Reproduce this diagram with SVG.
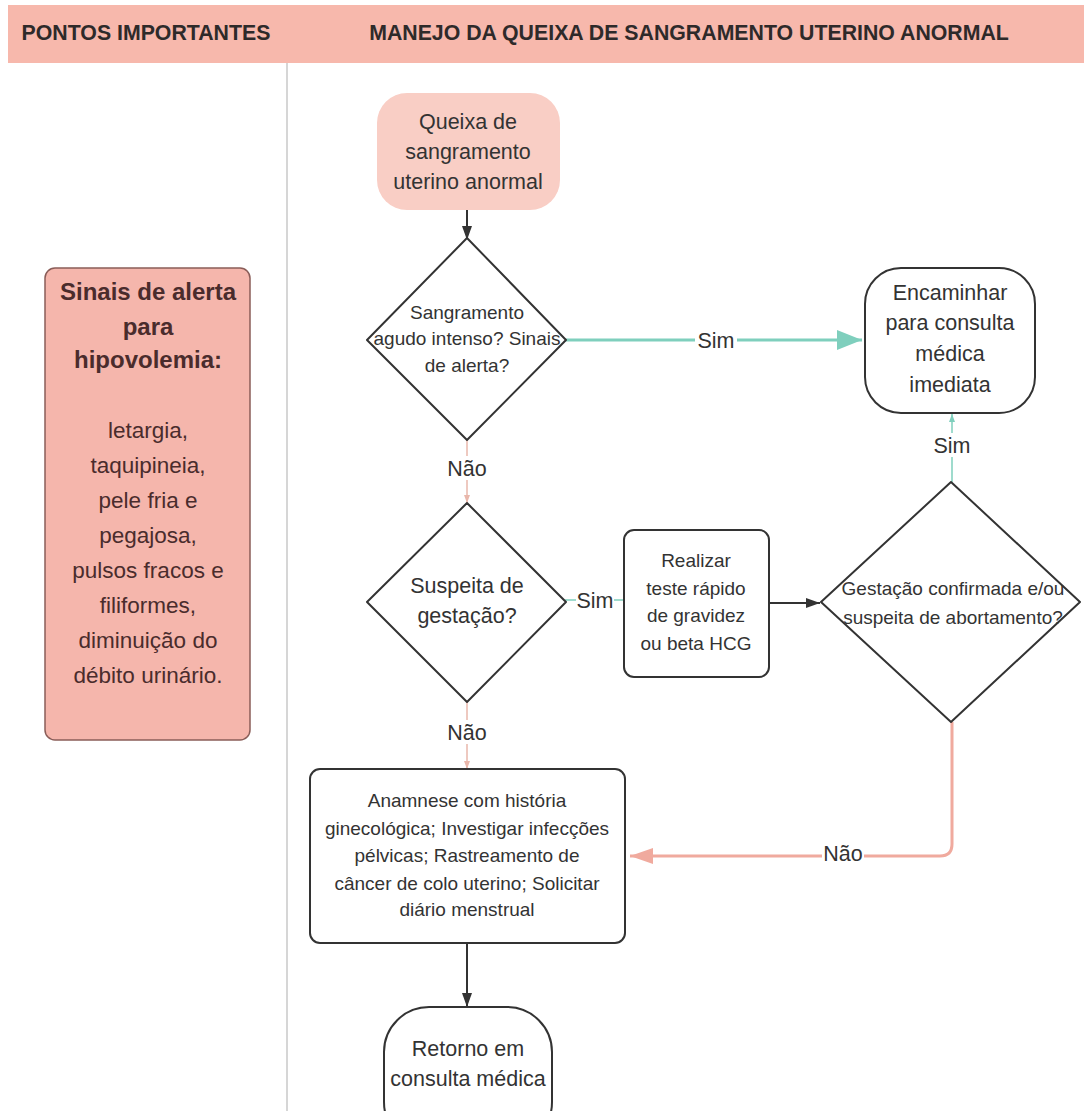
<svg xmlns="http://www.w3.org/2000/svg" width="1084" height="1111" viewBox="0 0 1084 1111">
<style>
  text{font-family:"Liberation Sans",Arial,sans-serif;text-anchor:middle;fill:#333}
  .hdr{font-weight:bold;font-size:21.3px;fill:#2e2a2a}
  .lt{font-weight:bold;font-size:24px;fill:#4a2c2c}
  .lb{font-size:22.5px;fill:#4a2c2c}
  .big{font-size:21.5px}
  .sm{font-size:19px}
  .shape{fill:#fff;stroke:#333;stroke-width:2;stroke-linejoin:round}
  .lbl{font-size:21.5px}
  .bg{fill:#fff}
  .blk{stroke:#333;stroke-width:2;fill:none}
  .teal{stroke:#7fcfbd;fill:none}
  .pink{stroke:#f0aa9e;fill:none}
  .pinkthin{stroke:#e9b7ab;stroke-width:1.5;fill:none}
</style>
<defs>
  <marker id="mBlack" markerUnits="userSpaceOnUse" markerWidth="14" markerHeight="10" refX="14" refY="5" orient="auto"><path d="M0,0 L14,5 L0,10 z" fill="#333"/></marker>
  <marker id="mTealBig" markerUnits="userSpaceOnUse" markerWidth="25" markerHeight="20" refX="25" refY="10" orient="auto"><path d="M0,0 L25,10 L0,20 z" fill="#7fcfbd"/></marker>
  <marker id="mTealSm" markerUnits="userSpaceOnUse" markerWidth="8" markerHeight="6" refX="8" refY="3" orient="auto"><path d="M0,0 L8,3 L0,6 z" fill="#7fcfbd"/></marker>
  <marker id="mPinkBig" markerUnits="userSpaceOnUse" markerWidth="23" markerHeight="16" refX="23" refY="8" orient="auto"><path d="M0,0 L23,8 L0,16 z" fill="#f0aa9e"/></marker>
  <marker id="mPinkSm" markerUnits="userSpaceOnUse" markerWidth="8" markerHeight="6" refX="8" refY="3" orient="auto"><path d="M0,0 L8,3 L0,6 z" fill="#e9b7ab"/></marker>
</defs>
<rect width="1084" height="1111" fill="#fff"/>

<g id="header">
  <rect x="8" y="5" width="1076" height="58" fill="#f7b8ac"/>
  <text class="hdr" x="146" y="40">PONTOS IMPORTANTES</text>
  <text class="hdr" x="689" y="40">MANEJO DA QUEIXA DE SANGRAMENTO UTERINO ANORMAL</text>
</g>
<line x1="287" y1="63" x2="287" y2="1111" stroke="#c9c9c9" stroke-width="1.5"/>

<g id="alerta">
  <rect x="45" y="268" width="205" height="472" rx="10" fill="#f5b6ac" stroke="#8a5d58" stroke-width="1.5"/>
  <text class="lt" x="148" y="300">Sinais de alerta</text>
  <text class="lt" x="148" y="335">para</text>
  <text class="lt" x="148" y="368">hipovolemia:</text>
  <text class="lb" x="148" y="438">letargia,</text>
  <text class="lb" x="148" y="473">taquipineia,</text>
  <text class="lb" x="148" y="508">pele fria e</text>
  <text class="lb" x="148" y="543">pegajosa,</text>
  <text class="lb" x="148" y="578">pulsos fracos e</text>
  <text class="lb" x="148" y="613">filiformes,</text>
  <text class="lb" x="148" y="648">diminuição do</text>
  <text class="lb" x="148" y="683">débito urinário.</text>
</g>

<g id="connectors">
  <path class="blk" d="M467,210 L467,240" marker-end="url(#mBlack)"/>
  <path class="teal" stroke-width="3" d="M565,340 L862,340" marker-end="url(#mTealBig)"/>
  <path class="pinkthin" d="M467,438 L467,503" marker-end="url(#mPinkSm)"/>
  <path class="teal" stroke-width="1.5" d="M565,600 L624,600"/>
  <path class="blk" d="M769,603 L820,603" marker-end="url(#mBlack)"/>
  <path class="teal" stroke-width="1.5" d="M952,482 L952,414" marker-end="url(#mTealSm)"/>
  <path class="pinkthin" d="M467,702 L467,769" marker-end="url(#mPinkSm)"/>
  <path class="pink" stroke-width="3" d="M952,722 L952,844 Q952,856 940,856 L630,856" marker-end="url(#mPinkBig)"/>
  <path class="blk" d="M467,943 L467,1007" marker-end="url(#mBlack)"/>
  <rect class="bg" x="695" y="328" width="42" height="24"/>
  <text class="lbl" x="716" y="348">Sim</text>
  <rect class="bg" x="446" y="456" width="42" height="24"/>
  <text class="lbl" x="467" y="476">Não</text>
  <rect class="bg" x="576" y="588" width="38" height="24"/>
  <text class="lbl" x="595" y="608">Sim</text>
  <rect class="bg" x="933" y="433" width="38" height="24"/>
  <text class="lbl" x="952" y="453">Sim</text>
  <rect class="bg" x="446" y="720" width="42" height="24"/>
  <text class="lbl" x="467" y="740">Não</text>
  <rect class="bg" x="822" y="844" width="42" height="24"/>
  <text class="lbl" x="843" y="861">Não</text>
</g>

<g id="inicio">
  <rect x="377" y="93" width="183" height="117" rx="30" fill="#f9cec5"/>
  <text class="big" x="468" y="129">Queixa de</text>
  <text class="big" x="468" y="159">sangramento</text>
  <text class="big" x="468" y="189">uterino anormal</text>
</g>

<g id="decisao-sangramento">
  <path class="shape" d="M467,238 L566,340 L467,440 L367,340 Z"/>
  <text class="sm" x="467" y="319">Sangramento</text>
  <text class="sm" x="467" y="345">agudo intenso? Sinais</text>
  <text class="sm" x="467" y="372">de alerta?</text>
</g>

<g id="encaminhar">
  <rect class="shape" x="865" y="268" width="170" height="145" rx="36"/>
  <text class="big" x="950" y="300">Encaminhar</text>
  <text class="big" x="950" y="330">para consulta</text>
  <text class="big" x="950" y="361">médica</text>
  <text class="big" x="950" y="392">imediata</text>
</g>

<g id="decisao-gestacao">
  <path class="shape" d="M467,503 L566,602 L467,702 L367,602 Z"/>
  <text class="big" x="467" y="593">Suspeita de</text>
  <text class="big" x="467" y="623">gestação?</text>
</g>

<g id="teste">
  <rect class="shape" x="624" y="530" width="145" height="147" rx="10"/>
  <text class="sm" x="696" y="567">Realizar</text>
  <text class="sm" x="696" y="595">teste rápido</text>
  <text class="sm" x="696" y="622">de gravidez</text>
  <text class="sm" x="696" y="650">ou beta HCG</text>
</g>

<g id="decisao-confirmada">
  <path class="shape" d="M951,482 L1080,602 L951,722 L821,602 Z"/>
  <text class="sm" x="953" y="595">Gestação confirmada e/ou</text>
  <text class="sm" x="953" y="624">suspeita de abortamento?</text>
</g>

<g id="anamnese">
  <rect class="shape" x="310" y="769" width="315" height="174" rx="10"/>
  <text class="sm" x="467" y="807">Anamnese com história</text>
  <text class="sm" x="467" y="835">ginecológica; Investigar infecções</text>
  <text class="sm" x="467" y="862">pélvicas; Rastreamento de</text>
  <text class="sm" x="467" y="890">câncer de colo uterino; Solicitar</text>
  <text class="sm" x="467" y="916">diário menstrual</text>
</g>

<g id="retorno">
  <rect class="shape" x="384" y="1007" width="168" height="140" rx="45"/>
  <text class="big" x="468" y="1056">Retorno em</text>
  <text class="big" x="468" y="1086">consulta médica</text>
</g>
</svg>
